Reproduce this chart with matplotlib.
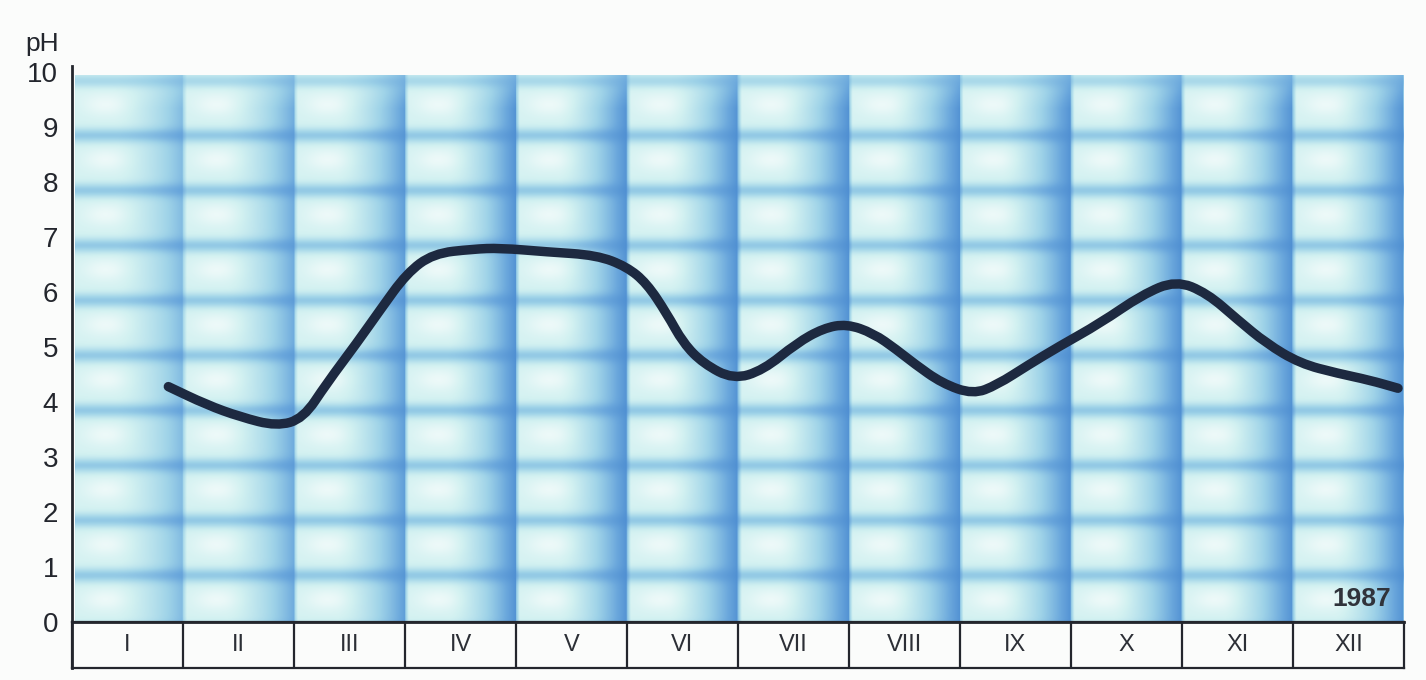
import numpy as np
import matplotlib
matplotlib.use("Agg")
import matplotlib.pyplot as plt
from matplotlib.colors import LinearSegmentedColormap
from matplotlib.lines import Line2D
from matplotlib.path import Path
from matplotlib.patches import PathPatch

# ---- data ----
months = ["I", "II", "III", "IV", "V", "VI", "VII", "VIII", "IX", "X", "XI", "XII"]
ph_ticks = list(range(0, 11))
year_label = "1987"
# position along the year (in months from the start of January) and pH value
curve_x = [0.868, 1.213, 1.514, 1.844, 2.084, 2.295, 2.565, 2.775, 3.015, 3.255,
           3.613, 3.856, 4.276, 4.727, 4.997, 5.177, 5.358, 5.507, 5.687, 5.958,
           6.228, 6.529, 6.768, 6.979, 7.219, 7.430, 7.586, 7.838, 8.117, 8.333,
           8.613, 8.892, 9.261, 9.640, 9.946, 10.225, 10.505, 10.757, 11.063,
           11.405, 11.685, 11.946]
curve_ph = [4.28, 3.95, 3.73, 3.56, 3.70, 4.34, 5.07, 5.67, 6.34, 6.70,
            6.78, 6.80, 6.73, 6.67, 6.46, 6.16, 5.61, 5.07, 4.70, 4.41,
            4.58, 5.07, 5.34, 5.42, 5.25, 4.95, 4.70, 4.34, 4.14, 4.31,
            4.67, 5.01, 5.43, 5.95, 6.21, 5.98, 5.49, 5.07, 4.70,
            4.52, 4.40, 4.25]

W, H = 1426, 680
BG = "#fbfcfb"
INK = "#23262d"
fig = plt.figure(figsize=(W / 100, H / 100), dpi=100)
fig.patch.set_facecolor(BG)

ax = fig.add_axes([72 / W, (H - 622) / H, (1404 - 72) / W, (622 - 72) / H])
ax.set_xlim(0, 12)
ax.set_ylim(0, 10)
ax.set_facecolor("none")

# ---- tiled gradient background (pure styling) ----
nx, ny = 1332, 550
x0, x1, y0, y1 = 0.03, 12.0, 0.0, 9.93
xs = np.linspace(x0, x1, nx)
ys = np.linspace(y1, y0, ny)
X, Y = np.meshgrid(xs, ys)
fx = X - np.floor(X)
fy = Y - np.floor(Y)
# columns: light on the left, darkening towards the right edge
cx = np.clip((fx - 0.38) / 0.62, 0, 1) ** 1.6
cx = np.maximum(cx, np.clip((0.035 - fx) / 0.035, 0, 1) * 0.6)
col_strength = np.clip(0.5 + 0.5 * X / 4.0, 0, 1.0)
cx = cx * col_strength
# rows: soft dark band just below each integer line
ry = np.exp(-((fy - 0.84) / 0.13) ** 2) + np.exp(-((fy + 0.16) / 0.13) ** 2)
ry = np.clip(ry, 0, 1)
d = 1 - (1 - 0.92 * cx) * (1 - 0.45 * ry)
# light cyan tint, whitest in the middle of each cell
cyan = 0.20 - 0.14 * np.exp(-((fx - 0.3) / 0.2) ** 2) * np.exp(-((fy - 0.4) / 0.2) ** 2)
d = np.clip(d + cyan * (1 - d), 0, 1)
# top row fades a little
d = d * np.clip(0.75 + 0.25 * (9.93 - Y) / 0.6, 0.75, 1)
cmap = LinearSegmentedColormap.from_list(
    "bg", [(0.0, "#f6fcfb"), (0.22, "#d2f1f1"), (0.5, "#9fd3e8"),
           (0.78, "#6aa7dc"), (1.0, "#4b8bd0")])
ax.imshow(d, cmap=cmap, vmin=0, vmax=1, extent=[x0, x1, y0, y1],
          aspect="auto", interpolation="bilinear", zorder=0)

# ---- curve: smooth path through the read points ----
pts = np.column_stack([curve_x, curve_ph])
verts = [tuple(pts[0]), tuple((pts[0] + pts[1]) / 2)]
codes = [Path.MOVETO, Path.LINETO]
for i in range(1, len(pts) - 1):
    verts += [tuple(pts[i]), tuple((pts[i] + pts[i + 1]) / 2)]
    codes += [Path.CURVE3, Path.CURVE3]
verts.append(tuple(pts[-1]))
codes.append(Path.LINETO)
ax.add_patch(PathPatch(Path(verts, codes), facecolor="none", edgecolor="#1d2940",
                       lw=6.8, capstyle="round", joinstyle="round", zorder=3))

for s in ax.spines.values():
    s.set_visible(False)
ax.set_xticks([])
ax.set_yticks(ph_ticks)
ax.set_yticklabels([str(t) for t in ph_ticks], fontsize=20,
                   family="Liberation Sans", color=INK)
ax.tick_params(axis="y", length=0, pad=10)

ax.text(11.88, 0.42, year_label, ha="right", va="center", fontsize=19,
        family="Liberation Sans", weight="bold", color="#30333b", zorder=4)

# ---- month boxes ----
axb = fig.add_axes([72 / W, (H - 668) / H, (1404 - 72) / W, 46 / H])
axb.set_xlim(0, 12)
axb.set_ylim(0, 1)
axb.set_facecolor(BG)
axb.set_xticks([])
axb.set_yticks([])
for s in axb.spines.values():
    s.set_linewidth(1.6)
    s.set_color(INK)
for i in range(1, 12):
    axb.axvline(i, color=INK, lw=1.6)
for i, m in enumerate(months):
    axb.text(i + 0.5, 0.5, m, ha="center", va="center", fontsize=17,
             family="Liberation Sans", color="#2c2f36")

# ---- axis lines ----
fig.add_artist(Line2D([72 / W, 72 / W], [(H - 66) / H, (H - 668) / H],
                      color=INK, lw=2.0))
fig.add_artist(Line2D([72 / W, 1404 / W], [(H - 622) / H, (H - 622) / H],
                      color=INK, lw=2.0))

fig.text(42 / W, 1 - 44 / H, "pH", ha="center", va="center", fontsize=19,
         family="Liberation Sans", color=INK)

fig.savefig("out.png", dpi=100, facecolor=fig.get_facecolor())
